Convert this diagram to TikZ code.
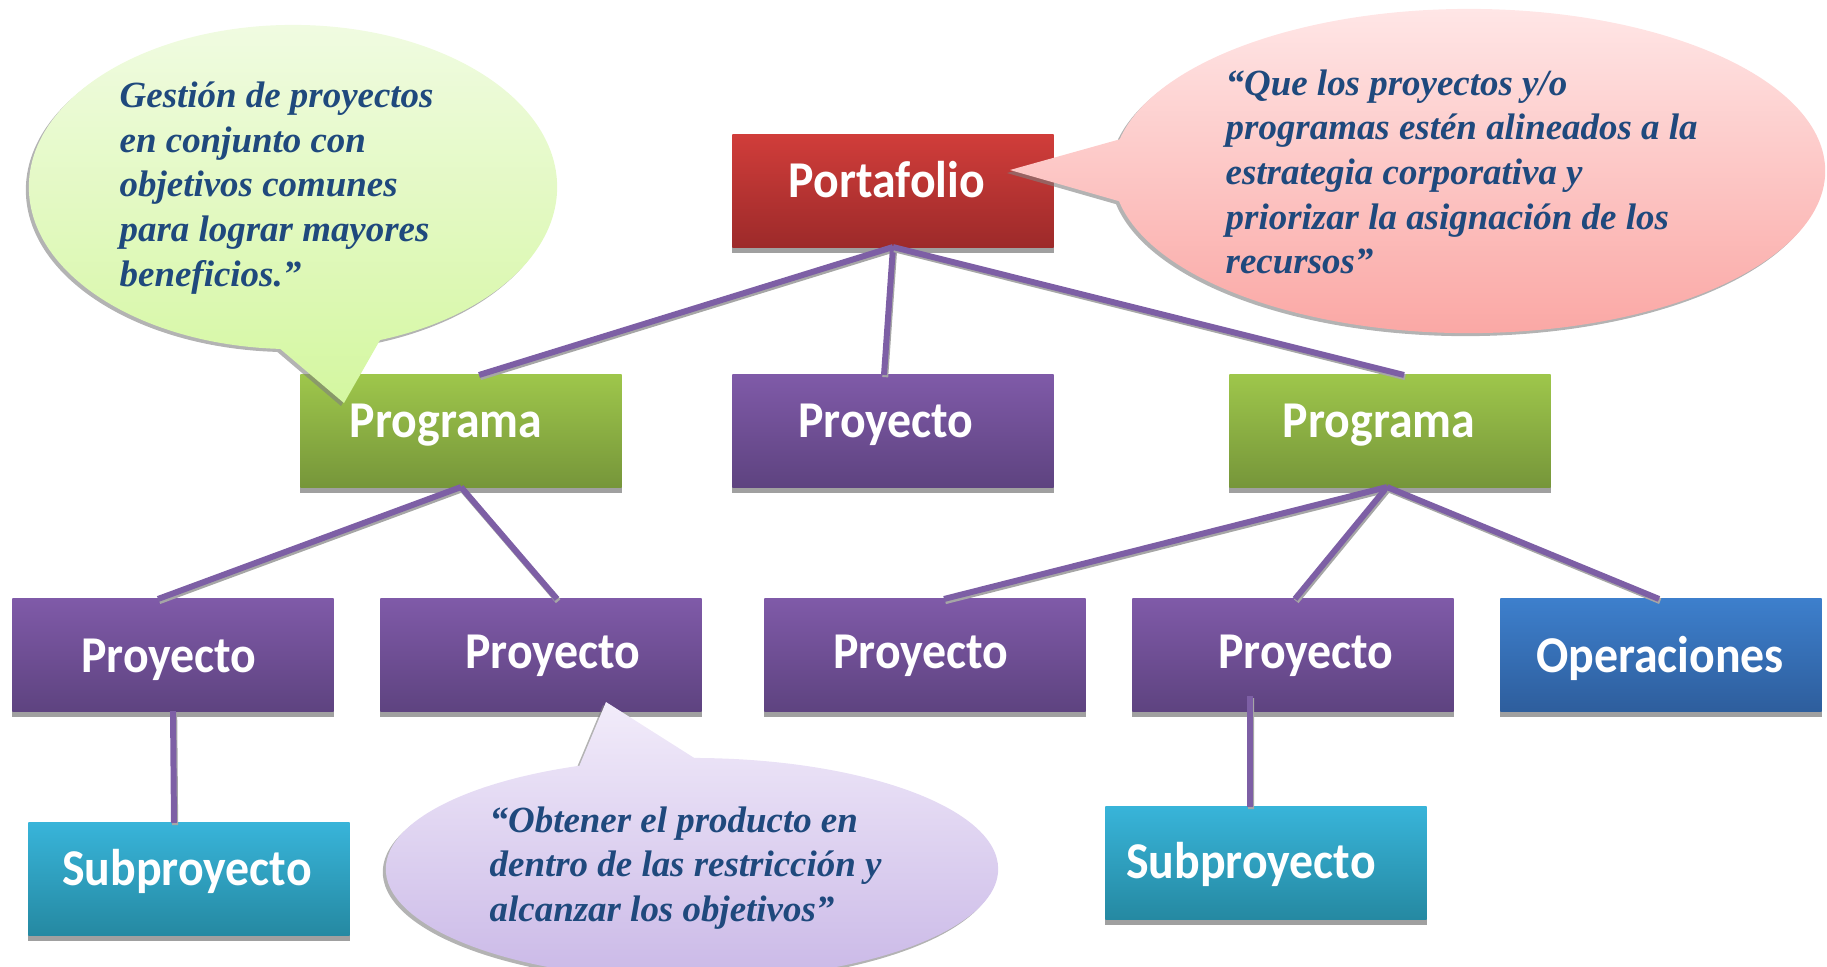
\documentclass[tikz,border=0pt]{standalone}
\usepackage{fontspec}
\usepackage{tikz}
\usetikzlibrary{shapes.callouts,shadows}
\newfontfamily\carlito{Carlito}
\newfontfamily\libserif{Liberation Serif}
\definecolor{redtop}{RGB}{208,61,58}
\definecolor{redbot}{RGB}{157,42,42}
\definecolor{greentop}{RGB}{158,198,75}
\definecolor{greenbot}{RGB}{118,150,58}
\definecolor{purpletop}{RGB}{127,90,168}
\definecolor{purplebot}{RGB}{94,67,128}
\definecolor{tealtop}{RGB}{56,180,217}
\definecolor{tealbot}{RGB}{37,137,162}
\definecolor{bluetop}{RGB}{61,127,204}
\definecolor{bluebot}{RGB}{46,94,157}
\definecolor{limetop}{RGB}{240,251,225}
\definecolor{limebot}{RGB}{212,247,160}
\definecolor{pinktop}{RGB}{255,230,230}
\definecolor{pinkbot}{RGB}{250,165,162}
\definecolor{lilactop}{RGB}{242,236,250}
\definecolor{lilacbot}{RGB}{200,182,230}
\definecolor{linkpurple}{RGB}{125,95,165}
\definecolor{quoteblue}{RGB}{31,73,125}
\newcommand{\boxtext}[1]{\carlito\bfseries\fontsize{13.6}{16}\selectfont\textcolor{white}{\scalebox{1}[1.08]{#1}}}

\begin{document}
\begin{tikzpicture}[x=0.01cm,y=-0.01cm,
  box/.style={rectangle,minimum width=3.21cm,minimum height=1.12cm,inner sep=0pt,outer sep=0pt,
    drop shadow={shadow xshift=0cm,shadow yshift=-0.06cm,opacity=0.75,fill=gray}},
  redbox/.style={box,top color=redtop,bottom color=redbot},
  greenbox/.style={box,top color=greentop,bottom color=greenbot},
  purplebox/.style={box,top color=purpletop,bottom color=purplebot},
  tealbox/.style={box,top color=tealtop,bottom color=tealbot},
  bluebox/.style={box,top color=bluetop,bottom color=bluebot},
  link/.style={draw=linkpurple,line width=1.7pt,
    preaction={draw=gray!70,line width=1.7pt,transform canvas={shift={(0.012cm,-0.022cm)}}}},
  bubble/.style={ellipse callout,callout pointer arc=22,inner sep=0pt,outer sep=0pt,
    drop shadow={shadow xshift=-0.03cm,shadow yshift=-0.03cm,opacity=0.6,fill=gray}},
  quote/.style={anchor=west,align=left,inner sep=0pt,text=quoteblue,
    font=\libserif\bfseries\itshape\fontsize{10.5}{12.7}\selectfont}]
  \useasboundingbox (0,0) rectangle (1827,966);

  \node[redbox] (port) at (893,191) {};
  \node[anchor=base] (portlbl) at (887,197) {\boxtext{Portafolio}};

  \node[greenbox] (progL) at (461,431) {};
  \node[anchor=base] (progLlbl) at (446,437) {\boxtext{Programa}};

  \node[purplebox] (proyM) at (893,431) {};
  \node[anchor=base] (proyMlbl) at (886,437) {\boxtext{Proyecto}};

  \node[greenbox] (progR) at (1390,431) {};
  \node[anchor=base] (progRlbl) at (1379,437) {\boxtext{Programa}};

  \node[purplebox] (proy1) at (173,655) {};
  \node[anchor=base] (proy1lbl) at (169,672) {\boxtext{Proyecto}};

  \node[purplebox] (proy2) at (541,655) {};
  \node[anchor=base] (proy2lbl) at (553,668) {\boxtext{Proyecto}};

  \node[purplebox] (proy3) at (925,655) {};
  \node[anchor=base] (proy3lbl) at (921,668) {\boxtext{Proyecto}};

  \node[purplebox] (proy4) at (1293,655) {};
  \node[anchor=base] (proy4lbl) at (1306,668) {\boxtext{Proyecto}};

  \node[bluebox] (oper) at (1661,655) {};
  \node[anchor=base] (operlbl) at (1660,672) {\boxtext{Operaciones}};

  \node[tealbox] (subL) at (189,879) {};
  \node[anchor=base] (subLlbl) at (187,885) {\boxtext{Subproyecto}};

  \node[tealbox] (subR) at (1266,863) {};
  \node[anchor=base] (subRlbl) at (1251,878) {\boxtext{Subproyecto}};

  \draw [link] (port.south) -- ([xshift=0.18cm]progL.north);
  \draw [link] (port.south) -- ([xshift=-0.09cm]proyM.north);
  \draw [link] (port.south) -- ([xshift=0.14cm]progR.north);

  \draw [link] (progL.south) -- ([xshift=-0.15cm]proy1.north);
  \draw [link] (progL.south) -- ([xshift=0.16cm]proy2.north);

  \draw [link] ([xshift=-0.03cm]progR.south) -- ([xshift=0.19cm]proy3.north);
  \draw [link] ([xshift=-0.03cm]progR.south) -- ([xshift=0.02cm]proy4.north);
  \draw [link] ([xshift=-0.03cm]progR.south) -- ([xshift=-0.02cm]oper.north);

  \draw [link] (proy1.south) -- ([xshift=-0.15cm]subL.north);
  \draw [link] ([xshift=-0.43cm,yshift=0.15cm]proy4.south) -- ([xshift=-0.16cm]subR.north);

  \node[bubble,minimum width=5.28cm,minimum height=3.24cm,
    top color=limetop,bottom color=limebot,callout absolute pointer={(344,403)}] (gestion) at (293,187) {};
  \node[quote] (gestiontxt) at (119,188)
    {Gestión de proyectos\\en conjunto con\\objetivos comunes\\para lograr mayores\\beneficios.”};

  \node[bubble,minimum width=7.12cm,minimum height=3.24cm,
    top color=pinktop,bottom color=pinkbot,callout absolute pointer={(1010,170)}] (estrategia) at (1469,171) {};
  \node[quote] (estrategiatxt) at (1225,172)
    {“Que los proyectos y/o\\programas estén alineados a la\\estrategia corporativa y\\priorizar la asignación de los\\recursos”};

  \node[bubble,minimum width=6.12cm,minimum height=2.22cm,
    top color=lilactop,bottom color=lilacbot,callout absolute pointer={(606,702)}] (producto) at (692,869) {};
  \node[quote] (productotxt) at (489,868)
    {“Obtener el producto en\\dentro de las restricción y\\alcanzar los objetivos”};
\end{tikzpicture}
\end{document}
